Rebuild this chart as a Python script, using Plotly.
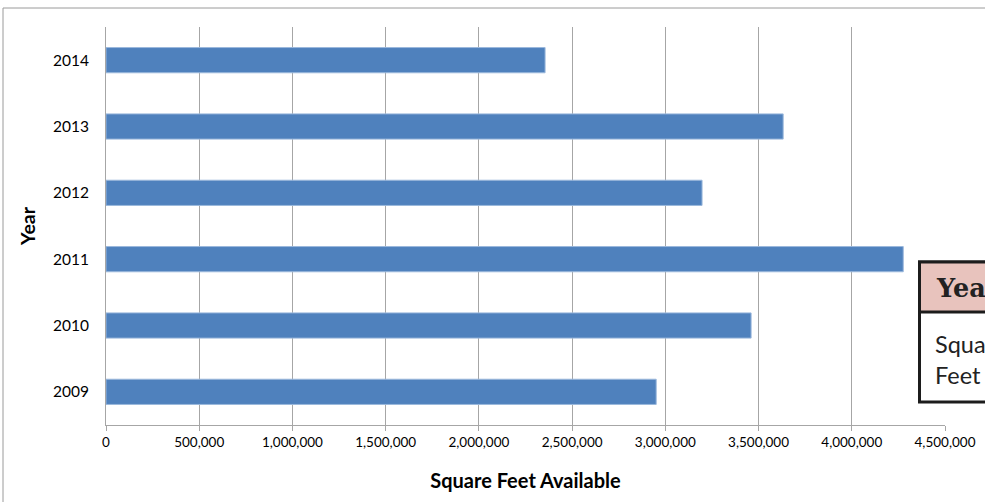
import plotly.graph_objects as go

# Office space on the market, by year
years = ["2009", "2010", "2011", "2012", "2013", "2014"]
square_feet = [2951000, 3460000, 4276000, 3197000, 3632000, 2355000]

x_ticks = [0, 500000, 1000000, 1500000, 2000000, 2500000, 3000000, 3500000, 4000000, 4500000]
x_tick_labels = ["0", "500,000", "1,000,000", "1,500,000", "2,000,000", "2,500,000",
                 "3,000,000", "3,500,000", "4,000,000", "4,500,000"]

W, H = 985, 502
L, R, T, B = 106, 40, 27, 77
pw, ph = W - L - R, H - T - B


def px(x):
    return (x - L) / pw


def py(y):
    return 1 - (y - T) / ph


label_font = "Lato, 'Open Sans', sans-serif"

fig = go.Figure(
    go.Bar(
        x=square_feet,
        y=years,
        orientation="h",
        marker=dict(color="#4f81bd", line=dict(color="#9bb8dc", width=1)),
        cliponaxis=False,
    )
)

fig.update_layout(
    width=W,
    height=H,
    margin=dict(l=L, r=R, t=T, b=B),
    paper_bgcolor="white",
    plot_bgcolor="white",
    bargap=0.62,
    showlegend=False,
    font=dict(family=label_font, size=13, color="black"),
    xaxis=dict(
        range=[0, 4500000],
        tickvals=x_ticks,
        ticktext=x_tick_labels,
        automargin=False,
        showgrid=True,
        gridcolor="#a6a6a6",
        gridwidth=1,
        showline=True,
        linecolor="#a6a6a6",
        linewidth=1,
        ticks="outside",
        ticklen=5,
        tickcolor="#a6a6a6",
        zeroline=False,
        tickfont=dict(size=13.5),
        title=dict(text="<b>Square Feet Available</b>", font=dict(size=20), standoff=24),
    ),
    yaxis=dict(
        automargin=False,
        showgrid=False,
        showline=True,
        linecolor="#a6a6a6",
        linewidth=1,
        ticks="",
        ticklabelstandoff=13,
        tickfont=dict(size=15.5),
        title=dict(text="<b>Year</b>", font=dict(size=19.5), standoff=12),
    ),
)

shapes = []
# Outer chart border
shapes.append(dict(type="rect", xref="paper", yref="paper",
                   x0=px(3), x1=px(1010), y0=py(8), y1=py(520),
                   line=dict(color="#9a9a9a", width=1), fillcolor="rgba(0,0,0,0)", layer="below"))

# Data table card overlapping the right edge
box_left, box_top, box_bottom, head_bottom = 919.5, 262, 402, 312
shapes.append(dict(type="rect", xref="paper", yref="paper",
                   x0=px(box_left), x1=px(1010), y0=py(box_bottom), y1=py(box_top),
                   line=dict(color="#1c1c1c", width=3), fillcolor="white", layer="above"))
shapes.append(dict(type="rect", xref="paper", yref="paper",
                   x0=px(box_left), x1=px(1010), y0=py(head_bottom), y1=py(box_top),
                   line=dict(color="#1c1c1c", width=3), fillcolor="#e8c3bd", layer="above"))

annotations = [
    dict(text="<b>Year</b>", xref="paper", yref="paper", x=px(934), y=py(288),
         xanchor="left", yanchor="middle", showarrow=False,
         font=dict(family="'DejaVu Serif', 'Liberation Serif', serif", size=25.5, color="#222222")),
    dict(text="Square<br>Feet", xref="paper", yref="paper", x=px(933), y=py(359),
         xanchor="left", yanchor="middle", showarrow=False, align="left",
         font=dict(family=label_font, size=23.5, color="#222222")),
]

fig.update_layout(shapes=shapes, annotations=annotations)

fig.write_html("out.html")
